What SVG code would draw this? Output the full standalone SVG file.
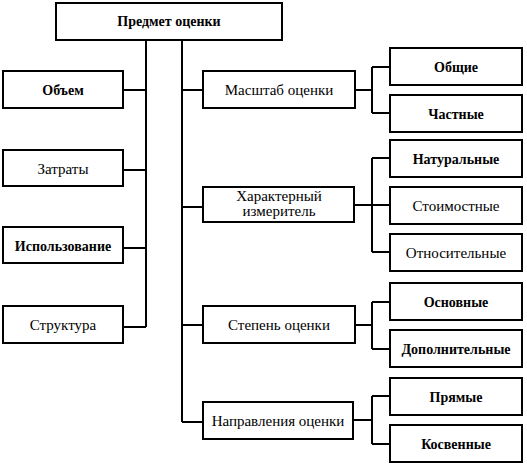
<svg xmlns="http://www.w3.org/2000/svg" width="527" height="467" viewBox="0 0 527 467">
<style>
rect{fill:#fff;stroke:#000;stroke-width:2}
text{fill:#000;text-anchor:middle}
.b{font-weight:bold;font-size:14px}
.c path{fill:none;stroke:#000;stroke-width:2}
</style>
<rect x="0" y="0" width="527" height="467" style="stroke:none"/>
<g class="c" id="connectors">
<path d="M146 40V327M123 90H146M123 170H146M123 248H146M123 327H146"/>
<path d="M182 40V422M182 90H203M182 207H203M182 325H203M182 422H203"/>
<path d="M355 90H372M372 67V113M372 67H390M372 113H390"/>
<path d="M354 205H390M372 158V252M372 158H390M372 252H390"/>
<path d="M355 325H372M372 302V349M372 302H390M372 349H390"/>
<path d="M353 420H372M372 396V444M372 396H390M372 444H390"/>
</g>
<g font-family="Liberation Serif, DejaVu Serif, serif" font-size="15">
<g id="n-root"><rect x="56" y="3" width="226" height="37"/><text class="b" x="169" y="26">Предмет оценки</text></g>
<g id="n-volume"><rect x="3" y="71" width="120" height="37"/><text class="b" x="63" y="95">Объем</text></g>
<g id="n-cost"><rect x="3" y="150" width="120" height="36"/><text x="63" y="174">Затраты</text></g>
<g id="n-use"><rect x="3" y="227" width="120" height="36"/><text class="b" x="63" y="251">Использование</text></g>
<g id="n-struct"><rect x="3" y="306" width="120" height="37"/><text x="63" y="330">Структура</text></g>
<g id="n-scale"><rect x="203" y="71" width="152" height="37"/><text x="279" y="95">Масштаб оценки</text></g>
<g id="n-meter"><rect x="203" y="187" width="151" height="35"/><text x="279" y="201">Характерный</text><text x="279" y="216">измеритель</text></g>
<g id="n-degree"><rect x="203" y="306" width="152" height="37"/><text x="279" y="330">Степень оценки</text></g>
<g id="n-dir"><rect x="203" y="402" width="150" height="37"/><text x="278" y="426">Направления оценки</text></g>
<g id="n-general"><rect x="390" y="48" width="132" height="37"/><text class="b" x="456" y="72">Общие</text></g>
<g id="n-partial"><rect x="390" y="95" width="132" height="37"/><text class="b" x="456" y="119">Частные</text></g>
<g id="n-natural"><rect x="390" y="140" width="132" height="37"/><text class="b" x="456" y="164">Натуральные</text></g>
<g id="n-value"><rect x="390" y="187" width="132" height="37"/><text x="456" y="211">Стоимостные</text></g>
<g id="n-relative"><rect x="390" y="234" width="132" height="37"/><text x="456" y="258">Относительные</text></g>
<g id="n-main"><rect x="390" y="283" width="132" height="37"/><text class="b" x="456" y="307">Основные</text></g>
<g id="n-extra"><rect x="390" y="330" width="132" height="37"/><text class="b" x="456" y="354">Дополнительные</text></g>
<g id="n-direct"><rect x="390" y="378" width="132" height="37"/><text class="b" x="456" y="402">Прямые</text></g>
<g id="n-indirect"><rect x="390" y="425" width="132" height="37"/><text class="b" x="456" y="449">Косвенные</text></g>
</g>
</svg>
